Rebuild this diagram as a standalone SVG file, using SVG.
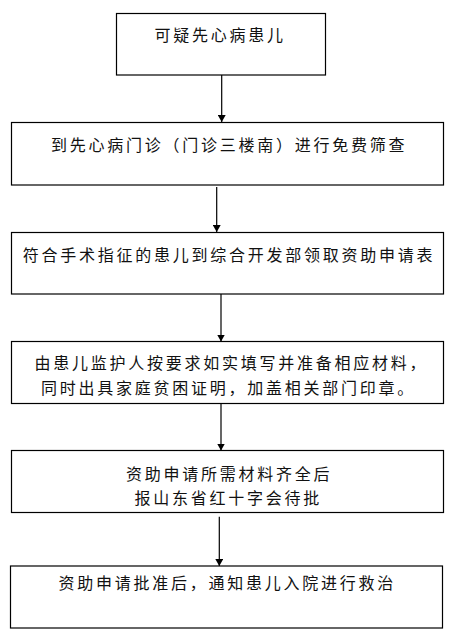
<svg xmlns="http://www.w3.org/2000/svg" width="460" height="639" viewBox="0 0 460 639">
<style>
.box{fill:#fff;stroke:#000;stroke-width:1.2}
.t{font-family:"Noto Sans CJK SC","Noto Sans",sans-serif;font-size:16px;letter-spacing:2.75px;fill:#111}
.c{stroke:#000;stroke-width:1.2;fill:none}
</style>
<defs>
<marker id="ah" viewBox="0 0 7 8" refX="7" refY="4" markerWidth="7" markerHeight="8" markerUnits="userSpaceOnUse" orient="auto">
<path d="M0,0 L7,4 L0,8 Z" fill="#000"/>
</marker>
</defs>
<rect width="460" height="639" fill="#fff"/>
<g id="connectors">
<line class="c" x1="221.7" y1="75" x2="221.7" y2="122" marker-end="url(#ah)"/>
<line class="c" x1="216.7" y1="187" x2="216.7" y2="232" marker-end="url(#ah)"/>
<line class="c" x1="221" y1="294" x2="221" y2="341.5" marker-end="url(#ah)"/>
<line class="c" x1="221" y1="403.5" x2="221" y2="450.5" marker-end="url(#ah)"/>
<line class="c" x1="219.3" y1="516.7" x2="219.3" y2="566" marker-end="url(#ah)"/>
</g>
<g id="n1">
<rect class="box" x="116.5" y="13.5" width="209" height="61.5"/>
<text class="t" x="154.5" y="41">可疑先心病患儿</text>
</g>
<g id="n2">
<rect class="box" x="11.5" y="122.5" width="432" height="62.5"/>
<text class="t" x="51" y="151">到先心病门诊（门诊三楼南）进行免费筛查</text>
</g>
<g id="n3">
<rect class="box" x="11.5" y="232.5" width="432" height="61.5"/>
<text class="t" x="22.7" y="261">符合手术指征的患儿到综合开发部领取资助申请表</text>
</g>
<g id="n4">
<rect class="box" x="11.5" y="341.5" width="432" height="62"/>
<text class="t" x="34.5" y="369">由患儿监护人按要求如实填写并准备相应材料，</text>
<text class="t" x="41" y="393.5">同时出具家庭贫困证明，加盖相关部门印章。</text>
</g>
<g id="n5">
<rect class="box" x="11.5" y="450.5" width="432" height="62"/>
<text class="t" x="126" y="480">资助申请所需材料齐全后</text>
<text class="t" x="134.5" y="504">报山东省红十字会待批</text>
</g>
<g id="n6">
<rect class="box" x="10.5" y="566" width="432" height="62"/>
<text class="t" x="58.5" y="589">资助申请批准后，通知患儿入院进行救治</text>
</g>
</svg>
